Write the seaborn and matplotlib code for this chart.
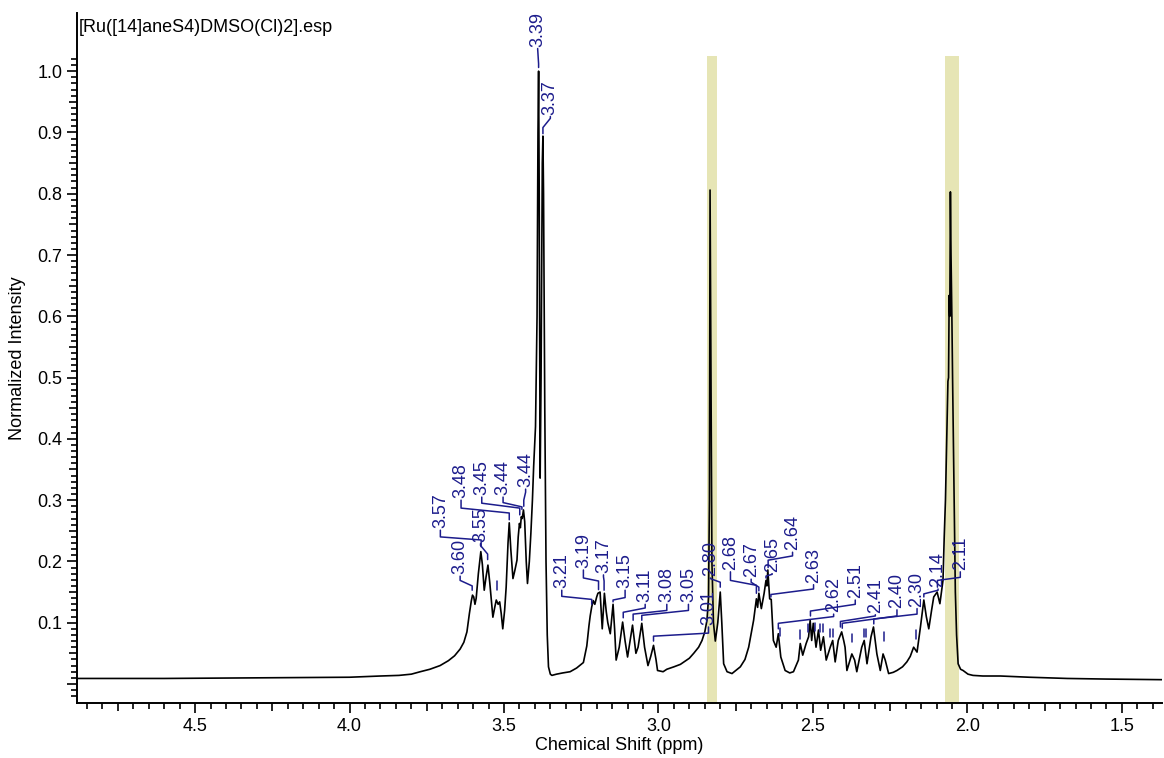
import numpy as np
import pandas as pd
import matplotlib
matplotlib.use("Agg")
import matplotlib.pyplot as plt
import seaborn as sns
from matplotlib.ticker import FixedLocator, FixedFormatter

# spectrum (ppm, normalized intensity)
shift_ppm = [
    4.88, 4.60, 4.30, 4.00, 3.90, 3.84, 3.80, 3.771, 3.74, 3.707, 3.68, 3.66,
    3.642, 3.63, 3.620, 3.612, 3.606, 3.602, 3.598, 3.594, 3.590, 3.583, 3.575,
    3.570, 3.564, 3.558, 3.552, 3.546, 3.536, 3.530, 3.525, 3.519, 3.514, 3.509,
    3.504, 3.498, 3.493, 3.487, 3.483, 3.478, 3.471, 3.465, 3.458, 3.454, 3.450,
    3.447, 3.444, 3.441, 3.437, 3.433, 3.428, 3.424, 3.418, 3.413, 3.408, 3.404,
    3.398, 3.393, 3.390, 3.388, 3.386, 3.383, 3.380, 3.376, 3.374, 3.372, 3.368,
    3.364, 3.360, 3.356, 3.350, 3.345, 3.330, 3.310, 3.286, 3.265, 3.243, 3.232,
    3.225, 3.221, 3.216, 3.211, 3.206, 3.200, 3.196, 3.189, 3.182, 3.175, 3.169,
    3.164, 3.156, 3.147, 3.142, 3.137, 3.127, 3.116, 3.108, 3.100, 3.084, 3.073,
    3.066, 3.054, 3.045, 3.034, 3.025, 3.016, 3.008, 3.003, 2.985, 2.973, 2.950,
    2.929, 2.900, 2.886, 2.870, 2.859, 2.850, 2.843, 2.838, 2.835, 2.833, 2.830,
    2.827, 2.822, 2.816, 2.808, 2.800, 2.795, 2.789, 2.778, 2.762, 2.735, 2.720,
    2.708, 2.692, 2.683, 2.679, 2.675, 2.667, 2.658, 2.652, 2.649, 2.646, 2.640,
    2.635, 2.628, 2.619, 2.612, 2.604, 2.590, 2.575, 2.563, 2.547, 2.541, 2.533,
    2.522, 2.514, 2.509, 2.504, 2.499, 2.490, 2.482, 2.475, 2.466, 2.457, 2.444,
    2.436, 2.428, 2.418, 2.407, 2.400, 2.396, 2.390, 2.374, 2.365, 2.358, 2.342,
    2.334, 2.325, 2.312, 2.304, 2.293, 2.282, 2.273, 2.266, 2.255, 2.240, 2.228,
    2.210, 2.196, 2.185, 2.174, 2.163, 2.152, 2.141, 2.133, 2.125, 2.116, 2.109,
    2.098, 2.089, 2.079, 2.075, 2.071, 2.066, 2.063, 2.061, 2.059, 2.057, 2.055,
    2.053, 2.050, 2.048, 2.043, 2.039, 2.035, 2.030, 2.022, 2.014, 1.998, 1.982,
    1.950, 1.893, 1.800, 1.677, 1.550, 1.370,
]
intensity = [
    0.009, 0.009, 0.010, 0.011, 0.013, 0.014, 0.016, 0.020, 0.024, 0.030, 0.038, 0.046,
    0.057, 0.068, 0.085, 0.115, 0.135, 0.145, 0.142, 0.130, 0.140, 0.180, 0.216,
    0.195, 0.153, 0.175, 0.194, 0.165, 0.109, 0.125, 0.137, 0.130, 0.134, 0.115,
    0.090, 0.120, 0.158, 0.230, 0.263, 0.220, 0.172, 0.185, 0.202, 0.240, 0.262,
    0.255, 0.273, 0.270, 0.284, 0.265, 0.200, 0.164, 0.200, 0.246, 0.300, 0.355,
    0.420, 0.600, 0.900, 1.000, 0.800, 0.336, 0.500, 0.850, 0.894, 0.800, 0.450,
    0.200, 0.080, 0.028, 0.016, 0.014, 0.016, 0.018, 0.020, 0.026, 0.035, 0.062,
    0.095, 0.111, 0.126, 0.136, 0.130, 0.142, 0.148, 0.150, 0.090, 0.148, 0.118,
    0.100, 0.082, 0.130, 0.090, 0.039, 0.060, 0.101, 0.070, 0.044, 0.096, 0.050,
    0.060, 0.099, 0.060, 0.030, 0.045, 0.063, 0.040, 0.022, 0.020, 0.024, 0.028,
    0.032, 0.042, 0.050, 0.060, 0.071, 0.085, 0.104, 0.140, 0.300, 0.806, 0.500,
    0.200, 0.100, 0.070, 0.100, 0.150, 0.100, 0.033, 0.020, 0.017, 0.028, 0.040,
    0.060, 0.104, 0.139, 0.125, 0.148, 0.123, 0.148, 0.169, 0.160, 0.186, 0.139,
    0.138, 0.071, 0.060, 0.082, 0.044, 0.022, 0.018, 0.020, 0.039, 0.066, 0.047,
    0.066, 0.077, 0.104, 0.071, 0.099, 0.060, 0.088, 0.055, 0.077, 0.039, 0.060,
    0.071, 0.036, 0.071, 0.085, 0.070, 0.060, 0.022, 0.049, 0.039, 0.020, 0.060,
    0.071, 0.033, 0.077, 0.093, 0.049, 0.022, 0.049, 0.039, 0.017, 0.019, 0.022,
    0.028, 0.036, 0.045, 0.060, 0.052, 0.093, 0.137, 0.110, 0.090, 0.120, 0.142,
    0.150, 0.131, 0.169, 0.240, 0.300, 0.420, 0.494, 0.500, 0.634, 0.600, 0.803,
    0.700, 0.590, 0.500, 0.300, 0.150, 0.080, 0.033, 0.024, 0.022, 0.016, 0.014,
    0.013, 0.013, 0.011, 0.009, 0.008, 0.007,
]

# picked peaks
peak_text = ["3.60", "3.57", "3.55", "3.48", "3.45", "3.44", "3.44", "3.39", "3.37",
             "3.21", "3.19", "3.17", "3.15", "3.11", "3.08", "3.05", "3.01", "2.80",
             "2.68", "2.67", "2.65", "2.64", "2.63", "2.62", "2.51", "2.41", "2.40",
             "2.30", "2.14", "2.11"]
peak_ppm = [3.603, 3.574, 3.553, 3.483, 3.449, 3.442, 3.436, 3.388, 3.374,
            3.216, 3.194, 3.176, 3.147, 3.114, 3.082, 3.054, 3.016, 2.800,
            2.683, 2.675, 2.652, 2.645, 2.636, 2.612, 2.508, 2.411, 2.405,
            2.303, 2.141, 2.097]

# peaks marked without a number
mark_ppm = [3.523, 2.608, 2.543, 2.517, 2.492, 2.478, 2.469, 2.444, 2.436,
            2.374, 2.336, 2.328, 2.269, 2.167]
mark_base = [0.150, 0.074, 0.070, 0.080, 0.082, 0.080, 0.080, 0.072, 0.072,
             0.064, 0.072, 0.072, 0.066, 0.070]

# highlighted solvent regions (ppm)
band_left = [2.842, 2.0725]
band_right = [2.810, 2.028]

# label placement: text x, text bottom, elbow heights, leader end
label_x = [3.642, 3.706, 3.576, 3.639, 3.572, 3.503, 3.430, 3.391, 3.350,
           3.313, 3.243, 3.178, 3.108, 3.043, 2.973, 2.903, 2.838, 2.832,
           2.767, 2.700, 2.632, 2.566, 2.498, 2.433, 2.363, 2.298, 2.228,
           2.163, 2.095, 2.023]
label_bottom = [0.179, 0.254, 0.232, 0.303, 0.308, 0.308, 0.321, 1.040, 0.929,
                0.156, 0.189, 0.181, 0.156, 0.133, 0.133, 0.133, 0.096, 0.176,
                0.186, 0.174, 0.183, 0.218, 0.165, 0.117, 0.140, 0.116, 0.124,
                0.126, 0.158, 0.186]
elbow_label = [0.169, 0.240, 0.226, 0.287, 0.295, 0.296, 0.313, 1.036, 0.923,
               0.143, 0.173, 0.175, 0.141, 0.124, 0.120, 0.120, 0.083, 0.172,
               0.169, 0.166, 0.179, 0.209, 0.155, 0.110, 0.130, 0.111, 0.111,
               0.114, 0.153, 0.174]
elbow_peak = [0.160, 0.235, 0.212, 0.279, 0.287, 0.289, 0.300, 1.012, 0.908,
              0.138, 0.168, 0.168, 0.137, 0.117, 0.114, 0.112, 0.078, 0.166,
              0.161, 0.158, 0.176, 0.202, 0.146, 0.099, 0.119, 0.102, 0.099,
              0.106, 0.147, 0.169]
leader_end = [0.153, 0.224, 0.203, 0.268, 0.276, 0.285, 0.290, 1.006, 0.898,
              0.130, 0.154, 0.153, 0.134, 0.108, 0.104, 0.104, 0.070, 0.158,
              0.148, 0.152, 0.173, 0.190, 0.142, 0.090, 0.111, 0.093, 0.091,
              0.098, 0.142, 0.158]

LABEL_COLOR = "#1c1c8c"
BAND_COLOR = "#e6e5b5"
X_LIM = (4.882, 1.37)
Y_LIM = (-0.031, 1.095)
FS = 13


def main():
    sns.set_style("ticks")
    plt.rcParams["font.family"] = ["Liberation Sans", "DejaVu Sans"]
    plt.rcParams["text.color"] = "black"
    plt.rcParams["axes.labelcolor"] = "black"
    plt.rcParams["xtick.color"] = "black"
    plt.rcParams["ytick.color"] = "black"

    fig = plt.figure(figsize=(11.64, 7.58), dpi=100)
    ax = fig.add_axes([0.0662, 0.0726, 0.9321, 0.9103])

    band_top = (1.024 - Y_LIM[0]) / (Y_LIM[1] - Y_LIM[0])
    for b0, b1 in zip(band_left, band_right):
        ax.axvspan(b1, b0, ymin=0, ymax=band_top, color=BAND_COLOR, lw=0, zorder=0)

    df = pd.DataFrame({"shift": shift_ppm, "intensity": intensity})
    sns.lineplot(data=df, x="shift", y="intensity", sort=False, estimator=None,
                 color="black", lw=1.2, ax=ax, zorder=2)

    for i, txt in enumerate(peak_text):
        lx, px = label_x[i], peak_ppm[i]
        ax.plot([lx, lx, px, px],
                [label_bottom[i] - 0.003, elbow_label[i], elbow_peak[i], leader_end[i]],
                color=LABEL_COLOR, lw=1.1, zorder=3)
        ax.text(lx, label_bottom[i], txt, rotation=90, ha="center", va="bottom",
                color=LABEL_COLOR, fontsize=FS, zorder=4)

    for m, b in zip(mark_ppm, mark_base):
        ax.plot([m, m], [b + 0.004, b + 0.018], color=LABEL_COLOR, lw=1.1, zorder=3)

    ax.set_xlim(*X_LIM)
    ax.set_ylim(*Y_LIM)

    xmaj = np.arange(1.5, 4.51, 0.5)
    ax.xaxis.set_major_locator(FixedLocator(xmaj))
    ax.xaxis.set_major_formatter(FixedFormatter([f"{v:.1f}" for v in xmaj]))
    ax.xaxis.set_minor_locator(FixedLocator(np.round(np.arange(1.40, 4.86, 0.05), 2)))

    ymaj = np.round(np.arange(0.0, 1.01, 0.1), 1)
    ax.yaxis.set_major_locator(FixedLocator(ymaj))
    ax.yaxis.set_major_formatter(FixedFormatter([""] + [f"{v:.1f}" for v in ymaj[1:]]))
    ax.yaxis.set_minor_locator(FixedLocator(np.round(np.arange(-0.02, 1.025, 0.01), 2)))

    ax.tick_params(which="major", length=7.5, width=1.2, labelsize=FS, pad=3)
    ax.tick_params(which="minor", length=4, width=1.2)
    ax.tick_params(axis="x", which="major", pad=3)

    for loc, t in zip(ax.xaxis.get_minorticklocs(), ax.xaxis.get_minor_ticks()):
        if abs(loc * 4 - round(loc * 4)) < 1e-6:
            t.tick1line.set_markersize(6)
    for loc, t in zip(ax.yaxis.get_minorticklocs(), ax.yaxis.get_minor_ticks()):
        if abs(loc * 20 - round(loc * 20)) < 1e-6:
            t.tick1line.set_markersize(5.5)

    sns.despine(ax=ax)
    for side in ["left", "bottom"]:
        ax.spines[side].set_linewidth(1.4)
        ax.spines[side].set_color("black")

    ax.set_xlabel("Chemical Shift (ppm)", fontsize=FS, labelpad=2)
    ax.set_ylabel("Normalized Intensity", fontsize=FS, labelpad=8)

    fig.text(79 / 1164, 1 - 19 / 758, "[Ru([14]aneS4)DMSO(Cl)2].esp",
             ha="left", va="top", fontsize=FS)

    fig.savefig("out.png", dpi=100)
    plt.close(fig)


if __name__ == "__main__":
    main()
